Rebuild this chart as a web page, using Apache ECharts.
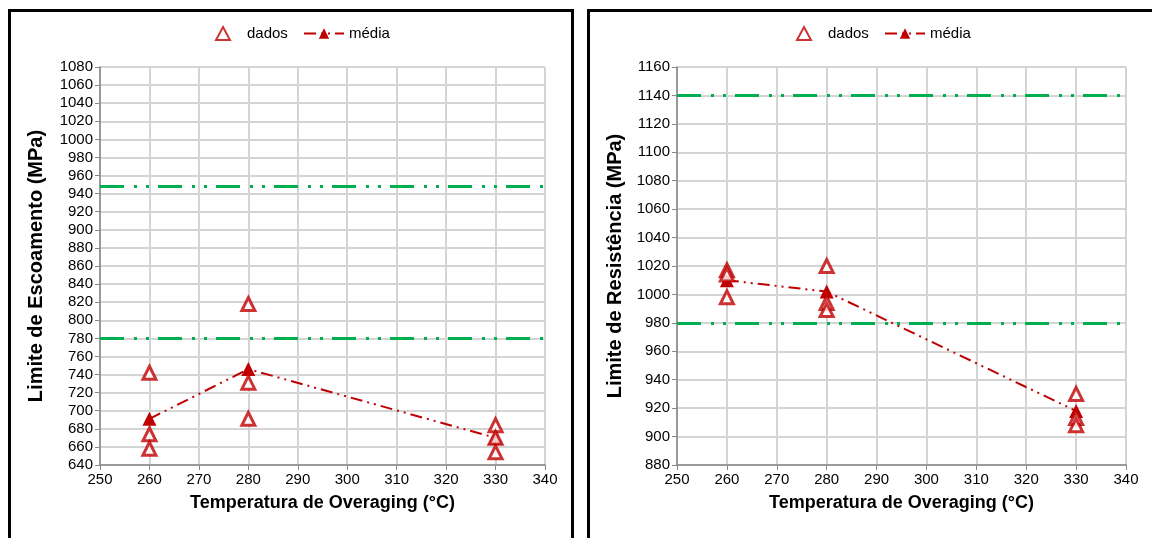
<!DOCTYPE html>
<html><head><meta charset="utf-8">
<script src="https://cdn.jsdelivr.net/npm/echarts@6/dist/echarts.min.js"></script>
<style>html,body{margin:0;padding:0;background:#fff}#c{width:1152px;height:538px}</style>
</head><body><div id="c"></div>
<script>
// ---- data ----
var xTicks = [250, 260, 270, 280, 290, 300, 310, 320, 330, 340];
var temps = [260, 260, 260, 280, 280, 280, 330, 330, 330];
var meanTemps = [260, 280, 330];
// Left: Limite de Escoamento
var leftData = [742, 674, 658, 818, 731, 691, 684, 670, 654];
var leftMean = [691, 746, 670];
var leftRefs = [948, 780];
// Right: Limite de Resistência
var rightData = [1017, 1014, 998, 1020, 994, 989, 930, 913, 908];
var rightMean = [1010, 1002, 918];
var rightRefs = [1140, 980];

var RED = '#c00000', GREEN = '#00b050';
var FONT = 'Liberation Sans, Arial, sans-serif';

function pairs(xs, ys) { return xs.map(function (x, i) { return [x, ys[i]]; }); }
function plain(v) { return String(v); }

function xAxis(gi) {
  return {
    gridIndex: gi, type: 'value', min: 250, max: 340, interval: 10,
    name: 'Temperatura de Overaging (°C)', nameLocation: 'middle', nameGap: 29,
    nameTextStyle: { fontFamily: FONT, fontWeight: 'bold', fontSize: 18, color: '#000' },
    axisLine: { show: true, lineStyle: { color: '#868686', width: 1.5 } },
    axisTick: { show: true, length: 5, lineStyle: { color: '#868686' } },
    axisLabel: { fontFamily: FONT, fontSize: 15, color: '#000', margin: 7, formatter: plain },
    splitLine: { show: true, lineStyle: { color: '#d4d4d4', width: 2 } }
  };
}
function yAxis(gi, min, max, name, gap) {
  return {
    gridIndex: gi, type: 'value', min: min, max: max, interval: 20,
    name: name, nameLocation: 'middle', nameGap: gap,
    nameTextStyle: { fontFamily: FONT, fontWeight: 'bold', fontSize: 20, color: '#000' },
    axisLine: { show: true, lineStyle: { color: '#868686', width: 1.5 } },
    axisTick: { show: true, length: 5, lineStyle: { color: '#868686' } },
    axisLabel: { fontFamily: FONT, fontSize: 15, color: '#000', margin: 7, formatter: plain },
    splitLine: { show: true, lineStyle: { color: '#d4d4d4', width: 2 } }
  };
}
function refLine(gi, refs) {
  return {
    type: 'line', xAxisIndex: gi, yAxisIndex: gi, data: [], silent: true,
    markLine: {
      silent: true, symbol: 'none', label: { show: false },
      lineStyle: { color: GREEN, width: 3, type: [24, 10, 3, 9, 3, 9] },
      data: refs.map(function (v) { return { yAxis: v }; })
    }
  };
}
function meanSeries(gi, ys) {
  return {
    name: 'média', type: 'line', xAxisIndex: gi, yAxisIndex: gi, z: 3,
    data: pairs(meanTemps, ys),
    symbol: 'triangle', symbolSize: 14,
    itemStyle: { color: RED },
    lineStyle: { color: RED, width: 2, type: [12, 5, 2, 5, 2, 5] }
  };
}
function dataSeries(gi, ys) {
  return {
    name: 'dados', type: 'scatter', xAxisIndex: gi, yAxisIndex: gi, z: 4,
    data: pairs(temps, ys),
    symbol: 'triangle', symbolSize: [13, 13],
    itemStyle: { color: '#fff', borderColor: RED, borderWidth: 3 }
  };
}
function legend(left, name, w, pad) {
  return {
    top: 21, left: left, itemWidth: w, itemHeight: 13, itemGap: 10,
    textStyle: { fontFamily: FONT, fontSize: 15, color: '#000', padding: [0, 0, 0, pad] },
    data: [name]
  };
}

var chart = echarts.init(document.getElementById('c'), null, { renderer: 'canvas' });
var opt = {
  animation: false,
  backgroundColor: '#fff',
  grid: [
    { left: 100, top: 67, width: 445, height: 398 },
    { left: 677, top: 67, width: 449, height: 398 }
  ],
  xAxis: [xAxis(0), xAxis(1)],
  yAxis: [
    yAxis(0, 640, 1080, 'Limite de Escoamento (MPa)', 54),
    yAxis(1, 880, 1160, 'Limite de Resistência (MPa)', 52)
  ],
  legend: [
    legend(210, 'dados', 14, 12), legend(298, 'média', 40, 0),
    legend(791, 'dados', 14, 12), legend(879, 'média', 40, 0)
  ],
  series: [
    refLine(0, leftRefs), meanSeries(0, leftMean), dataSeries(0, leftData),
    refLine(1, rightRefs), meanSeries(1, rightMean), dataSeries(1, rightData)
  ],
  graphic: [
    { type: 'rect', shape: { x: 9.5, y: 10.5, width: 563, height: 600 }, style: { fill: 'none', stroke: '#000', lineWidth: 3 }, z: 100 },
    { type: 'rect', shape: { x: 588.5, y: 10.5, width: 600, height: 600 }, style: { fill: 'none', stroke: '#000', lineWidth: 3 }, z: 100 }
  ]
};
chart.setOption(opt);
</script></body></html>
